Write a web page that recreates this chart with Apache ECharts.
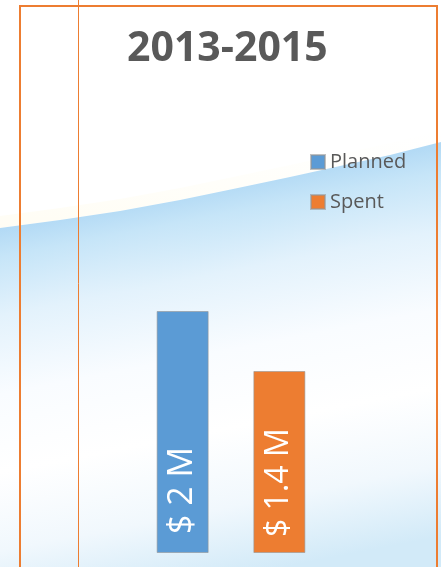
<!DOCTYPE html>
<html>
<head>
<meta charset="utf-8">
<script src="https://cdn.jsdelivr.net/npm/echarts@6/dist/echarts.min.js"></script>
<style>
html, body { margin: 0; padding: 0; background: #ffffff; }
#chart { width: 441px; height: 567px; }
</style>
</head>
<body>
<div id="chart"></div>
<script>
const titleText = '2013-2015';
const categories = ['2013-2015'];
const seriesNames = ['Planned', 'Spent'];
const plannedValues = [2];
const spentValues = [1.4];
const seriesColors = ['#5B9BD5', '#ED7D31'];

const chart = echarts.init(document.getElementById('chart'), null, { renderer: 'canvas' });

const bgGradient = new echarts.graphic.LinearGradient(215, 188, 288, 566, [
  { offset: 0, color: '#b3daf5' },
  { offset: 0.07, color: '#c6e5f8' },
  { offset: 0.22, color: '#e3f2fc' },
  { offset: 0.42, color: '#f9fcff' },
  { offset: 0.62, color: '#ffffff' },
  { offset: 0.82, color: '#f1f8fd' },
  { offset: 1, color: '#d2eaf8' }
], true);

const glowGradient = new echarts.graphic.LinearGradient(0, 0, 0, 1, [
  { offset: 0, color: 'rgba(255,252,235,0)' },
  { offset: 1, color: 'rgba(255,250,230,0.45)' }
]);

const edgePoints = [[0, 228], [60, 220], [120, 211], [180, 200], [233, 189], [290, 177], [340, 166], [390, 155], [441, 142]];

const option = {
  backgroundColor: '#ffffff',
  animation: false,
  title: {
    text: titleText,
    left: 127,
    top: 29,
    padding: 0,
    textStyle: {
      fontFamily: 'Open Sans',
      fontWeight: 'bold',
      fontSize: 41,
      color: '#595959'
    }
  },
  legend: {
    data: seriesNames,
    orient: 'vertical',
    left: 310,
    top: 152,
    padding: 0,
    itemWidth: 14,
    itemHeight: 14,
    itemGap: 20,
    icon: 'rect',
    textStyle: {
      fontFamily: 'Open Sans',
      fontSize: 20,
      color: '#595959'
    }
  },
  grid: {
    left: 131,
    right: 110,
    top: 251,
    bottom: 14,
    containLabel: false
  },
  xAxis: {
    type: 'category',
    data: categories,
    show: false
  },
  yAxis: {
    type: 'value',
    min: -0.42,
    max: 2.6,
    startValue: -0.42,
    show: false
  },
  graphic: [
    {
      type: 'polygon',
      z: -11,
      shape: {
        points: edgePoints.map(function (p) { return [p[0], p[1] - 12]; }).concat(edgePoints.slice().reverse())
      },
      style: { fill: glowGradient }
    },
    {
      type: 'polygon',
      z: -10,
      shape: {
        points: edgePoints.concat([[441, 567], [0, 567]])
      },
      style: { fill: bgGradient }
    },
    {
      type: 'rect',
      z: 100,
      shape: { x: 20, y: 6, width: 417, height: 600 },
      style: { fill: 'none', stroke: '#ED7D31', lineWidth: 2 }
    },
    {
      type: 'line',
      z: 100,
      shape: { x1: 78.5, y1: 0, x2: 78.5, y2: 567 },
      style: { stroke: '#ED7D31', lineWidth: 1 }
    }
  ],
  series: [
    {
      name: seriesNames[0],
      type: 'bar',
      data: plannedValues,
      barWidth: 52,
      barGap: '86%',
      itemStyle: { color: seriesColors[0], borderColor: 'rgba(150,150,150,0.6)', borderWidth: 1 },
      label: {
        show: true,
        position: 'insideBottom',
        distance: 19,
        rotate: 90,
        align: 'left',
        verticalAlign: 'middle',
        formatter: '$ {c} M',
        color: '#ffffff',
        fontFamily: 'Open Sans',
        fontSize: 34
      }
    },
    {
      name: seriesNames[1],
      type: 'bar',
      data: spentValues,
      barWidth: 52,
      barGap: '86%',
      itemStyle: { color: seriesColors[1], borderColor: 'rgba(150,150,150,0.6)', borderWidth: 1 },
      label: {
        show: true,
        position: 'insideBottom',
        distance: 16,
        rotate: 90,
        align: 'left',
        verticalAlign: 'middle',
        formatter: '$ {c} M',
        color: '#ffffff',
        fontFamily: 'Open Sans',
        fontSize: 32
      }
    }
  ]
};

chart.setOption(option);
</script>
</body>
</html>
